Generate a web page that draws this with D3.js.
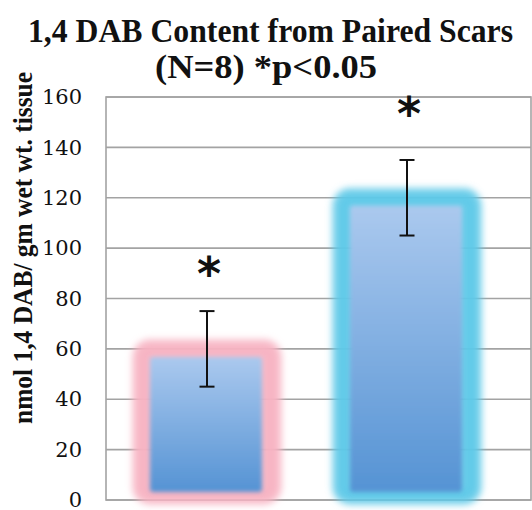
<!DOCTYPE html>
<html>
<head>
<meta charset="utf-8">
<script src="https://cdn.jsdelivr.net/npm/d3@7"></script>
<style>
  html, body { margin: 0; padding: 0; background: #ffffff; }
  svg { display: block; }
</style>
</head>
<body>
<svg id="chart" width="532" height="510"></svg>
<script>
// ---- data ----
const titleLines = ["1,4 DAB Content from Paired Scars", "(N=8) *p<0.05"];
const yAxisTitle = "nmol 1,4 DAB/ gm wet wt. tissue";
const categories = ["Scar A", "Scar B"];
const means = [60, 120];
const errLow = [45, 105];
const errHigh = [75, 135];
const starLabels = ["*", "*"];
const starValues = [92.5, 156];
const yTicks = [0, 20, 40, 60, 80, 100, 120, 140, 160];
const glowColors = ["#f7b3c2", "#5ec9e8"];

// ---- layout ----
const plot = { left: 106, right: 531, top: 97, bottom: 500 };
const svg = d3.select("#chart");
const defs = svg.append("defs");

const y = d3.scaleLinear().domain([0, 160]).range([plot.bottom, plot.top]);
const x = d3.scaleBand().domain(categories).range([107, 507]).paddingInner(0.34).paddingOuter(0.17);

// gradient
const grad = defs.append("linearGradient").attr("id", "barGrad")
  .attr("x1", 0).attr("y1", 0).attr("x2", 0).attr("y2", 1);
grad.append("stop").attr("offset", "0%").attr("stop-color", "#abc9ee");
grad.append("stop").attr("offset", "100%").attr("stop-color", "#5593d4");

const fGlow = defs.append("filter").attr("id", "glowBlur")
  .attr("x", "-20%").attr("y", "-20%").attr("width", "140%").attr("height", "140%");
fGlow.append("feGaussianBlur").attr("stdDeviation", 3.5);
const fSoft = defs.append("filter").attr("id", "softBlur")
  .attr("x", "-10%").attr("y", "-10%").attr("width", "120%").attr("height", "120%");
fSoft.append("feGaussianBlur").attr("stdDeviation", 2.2);

// gridlines
const grid = svg.append("g").attr("class", "grid");
grid.selectAll("line").data(yTicks).enter().append("line")
  .attr("x1", plot.left).attr("x2", plot.right)
  .attr("y1", d => y(d)).attr("y2", d => y(d))
  .attr("stroke", "#a3a3a3").attr("stroke-width", 1.6);
// frame
svg.append("rect")
  .attr("x", plot.left).attr("y", plot.top)
  .attr("width", plot.right - plot.left).attr("height", plot.bottom - plot.top)
  .attr("fill", "none").attr("stroke", "#a3a3a3").attr("stroke-width", 1.6);

// y axis tick labels using d3 axis
const yAxis = d3.axisLeft(y).tickValues(yTicks).tickSize(0).tickPadding(24);
const gAxis = svg.append("g").attr("transform", `translate(${plot.left},0)`).call(yAxis);
gAxis.select(".domain").remove();
gAxis.selectAll("text")
  .attr("font-family", "DejaVu Serif")
  .attr("font-size", 21)
  .attr("fill", "#111");

// bars
const bars = svg.append("g").attr("class", "bars");
categories.forEach((c, i) => {
  const x0 = x(c), bw = x.bandwidth();
  const yt = y(means[i]), yb = y(0);
  bars.append("rect")
    .attr("x", x0 - 1).attr("y", yt - 2)
    .attr("width", bw + 2).attr("height", yb - yt - 1)
    .attr("rx", 10)
    .attr("fill", glowColors[i]).attr("fill-opacity", 0.9)
    .attr("stroke", glowColors[i]).attr("stroke-opacity", 0.9)
    .attr("stroke-width", 15)
    .attr("filter", "url(#glowBlur)");
  bars.append("rect")
    .attr("x", x0 + 9).attr("y", yt + 8)
    .attr("width", bw - 20).attr("height", yb - yt - 16)
    .attr("rx", 3)
    .attr("fill", "url(#barGrad)")
    .attr("filter", "url(#softBlur)");
});

// error bars
const eb = svg.append("g").attr("class", "errorbars").attr("stroke", "#111").attr("stroke-width", 2);
categories.forEach((c, i) => {
  const cx = x(c) + x.bandwidth() / 2;
  eb.append("line").attr("x1", cx).attr("x2", cx).attr("y1", y(errLow[i])).attr("y2", y(errHigh[i]));
  eb.append("line").attr("x1", cx - 7.5).attr("x2", cx + 7.5).attr("y1", y(errLow[i])).attr("y2", y(errLow[i]));
  eb.append("line").attr("x1", cx - 7.5).attr("x2", cx + 7.5).attr("y1", y(errHigh[i])).attr("y2", y(errHigh[i]));
});

// stars
svg.append("g").selectAll("text").data(categories).enter().append("text")
  .attr("x", (c) => x(c) + x.bandwidth() / 2 + 2)
  .attr("y", (c, i) => y(starValues[i]) + 23)
  .attr("text-anchor", "middle")
  .attr("font-family", "DejaVu Sans")
  .attr("font-weight", "bold")
  .attr("font-size", 46)
  .attr("fill", "#111")
  .text((c, i) => starLabels[i]);

// title
svg.append("text").attr("x", 270.5).attr("y", 42)
  .attr("text-anchor", "middle").attr("font-family", "Liberation Serif")
  .attr("font-weight", "bold").attr("font-size", 34).attr("fill", "#111")
  .attr("textLength", 485).attr("lengthAdjust", "spacingAndGlyphs")
  .text(titleLines[0]);
svg.append("text").attr("x", 266).attr("y", 78)
  .attr("text-anchor", "middle").attr("font-family", "Liberation Serif")
  .attr("font-weight", "bold").attr("font-size", 34).attr("fill", "#111")
  .attr("textLength", 222).attr("lengthAdjust", "spacingAndGlyphs")
  .text(titleLines[1]);

// y axis title
svg.append("text")
  .attr("transform", "translate(32,248) rotate(-90)")
  .attr("text-anchor", "middle").attr("font-family", "Liberation Serif")
  .attr("font-weight", "bold").attr("font-size", 27).attr("fill", "#111")
  .attr("textLength", 352).attr("lengthAdjust", "spacingAndGlyphs")
  .text(yAxisTitle);
</script>
</body>
</html>
